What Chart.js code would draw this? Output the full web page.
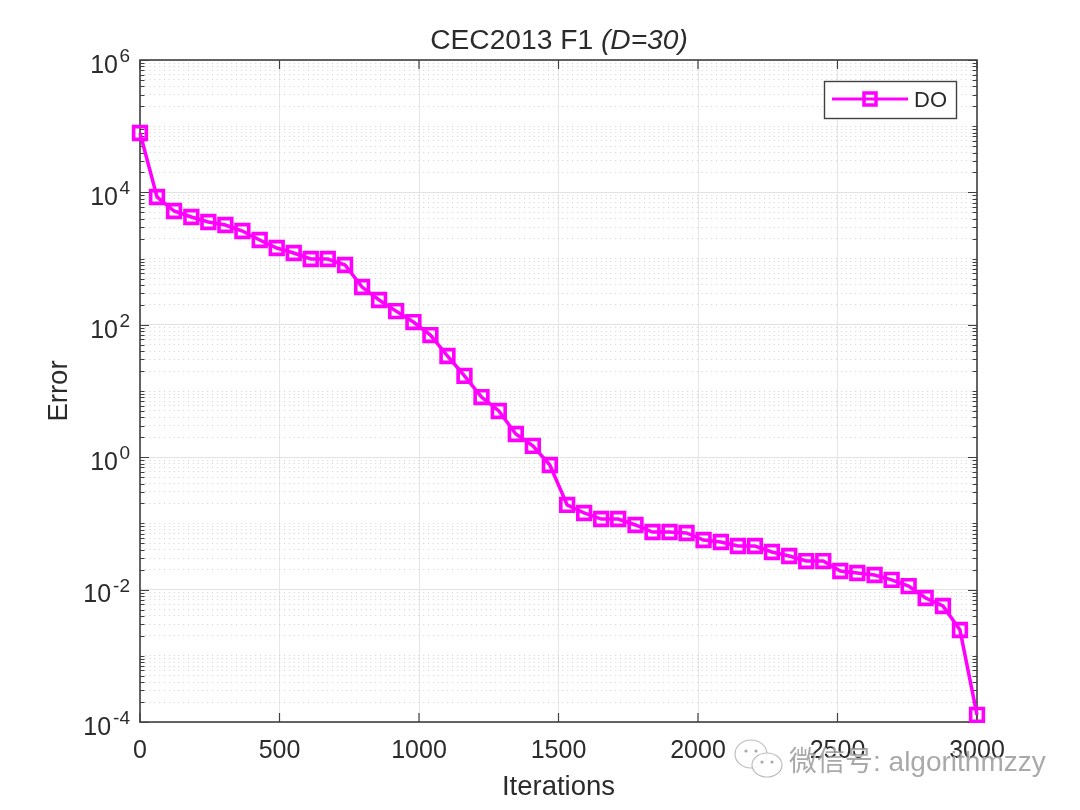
<!DOCTYPE html>
<html><head><meta charset="utf-8">
<style>html,body{margin:0;padding:0;background:#fff}#w{width:1080px;height:810px}</style>
<script src="https://cdn.jsdelivr.net/npm/chart.js@4"></script></head>
<body><div id="w"><canvas id="c" width="1080" height="810"></canvas></div>
<script>
const iterations=[0,61,122,184,245,306,367,429,490,551,612,673,735,796,857,918,980,1041,1102,1163,1224,1286,1347,1408,1469,1531,1592,1653,1714,1776,1837,1898,1959,2020,2082,2143,2204,2265,2327,2388,2449,2510,2571,2633,2694,2755,2816,2878,2939,3000];
const errors=[78900,8530,5240,4250,3570,3220,2610,1910,1445,1216,986,986,800,372,237,161,110,70,33.8,16.9,8.1,4.99,2.24,1.48,0.762,0.19,0.1436,0.1164,0.1164,0.0946,0.0741,0.0741,0.0716,0.0561,0.0524,0.0456,0.0456,0.037,0.0322,0.027,0.027,0.0191,0.0178,0.0166,0.014,0.0113,0.00746,0.00565,0.00245,0.000128];
const seriesName='DO';
const xTicks=[0,500,1000,1500,2000,2500,3000];
const yDecades=[-4,-3,-2,-1,0,1,2,3,4,5,6];
const yExponents={'-4':'-4','-2':'-2','0':'0','2':'2','4':'4','6':'6'};
const F='"Liberation Sans",Arial,sans-serif';
const ink='#2b2b2b';
const isDecade=v=>Math.abs(Math.log10(v)-Math.round(Math.log10(v)))<1e-9;
const expOf=v=>String(Math.round(Math.log10(v)));
const isLabelled=v=>isDecade(v)&&yExponents[expOf(v)]!==undefined;

const decor={id:'decor',
 beforeDatasetsDraw(ch){
  const g=ch.ctx,a=ch.chartArea,X=ch.scales.x,Y=ch.scales.y;
  g.save();g.strokeStyle='#404040';g.lineWidth=1.2;
  g.beginPath();
  X.ticks.forEach(t=>{const p=X.getPixelForValue(t.value);g.moveTo(p,a.bottom);g.lineTo(p,a.bottom-9);g.moveTo(p,a.top);g.lineTo(p,a.top+9);});
  Y.ticks.forEach(t=>{const p=Math.round(Y.getPixelForValue(t.value))+.5,l=isLabelled(t.value)?9:4.5;g.moveTo(a.left,p);g.lineTo(a.left+l,p);g.moveTo(a.right,p);g.lineTo(a.right-l,p);});
  g.stroke();
  g.lineWidth=1.6;g.strokeRect(a.left,a.top,a.right-a.left,a.bottom-a.top);
  g.restore();
 },
 afterDraw(ch){
  const g=ch.ctx,ds=ch.data.datasets[0],Y=ch.scales.y;
  g.save();
  // exponents of the y tick labels
  g.fillStyle=ink;g.textBaseline='alphabetic';g.textAlign='right';g.font='19px '+F;
  Y.ticks.forEach(t=>{if(isLabelled(t.value))g.fillText(yExponents[expOf(t.value)],130,Y.getPixelForValue(t.value)+2);});
  // title with italic part
  const p1='CEC2013 F1 ',p2='(D=30)';
  g.textAlign='left';
  g.font='28.2px '+F;const w1=g.measureText(p1).width;
  g.font='italic 28.2px '+F;const w2=g.measureText(p2).width;
  const sx=559-(w1+w2)/2;
  g.font='28.2px '+F;g.fillText(p1,sx,49);
  g.font='italic 28.2px '+F;g.fillText(p2,sx+w1,49);
  // legend
  g.fillStyle='#fff';g.strokeStyle='#404040';g.lineWidth=1.4;
  g.fillRect(824.5,81.5,132,37);g.strokeRect(824.5,81.5,132,37);
  g.strokeStyle=ds.borderColor;g.lineWidth=3.2;
  g.beginPath();g.moveTo(832,99);g.lineTo(908,99);g.stroke();
  g.lineWidth=3.5;g.strokeRect(864,93,12,12);
  g.fillStyle=ink;g.font='22px '+F;g.fillText(ds.label,914,107);
  // watermark
  g.globalAlpha=.8;
  g.font='28px '+F.replace('sans-serif','"Noto Sans CJK SC",sans-serif');
  g.fillStyle='#fff';g.fillText('微信号: algorithmzzy',790,772);
  g.fillStyle='#949494';g.fillText('微信号: algorithmzzy',789,771);
  g.globalAlpha=1;
  [[751,754,16,14],[767,765,15,12]].forEach(b=>{
   g.beginPath();g.ellipse(b[0],b[1],b[2],b[3],0,0,7);g.fillStyle='rgba(255,255,255,.85)';g.fill();
   g.strokeStyle='#bdbdbd';g.lineWidth=1.2;g.stroke();
   g.fillStyle='#aaa';
   [-5,5].forEach(d=>{g.beginPath();g.arc(b[0]+d,b[1]-3,1.6,0,7);g.fill();});
  });
  g.restore();
 }};

new Chart(document.getElementById('c'),{
 type:'line',
 plugins:[decor],
 data:{labels:iterations,datasets:[{label:seriesName,data:iterations.map((x,i)=>({x,y:errors[i]})),
  borderColor:'#ff00ff',borderWidth:3.5,backgroundColor:'transparent',tension:0,clip:false,
  pointStyle:'rect',pointRadius:9,pointBorderWidth:3.6,pointBorderColor:'#ff00ff',pointBackgroundColor:'transparent'}]},
 options:{responsive:false,animation:false,devicePixelRatio:1,
  layout:{padding:{top:60,right:103,left:0,bottom:0}},
  plugins:{legend:{display:false},tooltip:{enabled:false},title:{display:false}},
  scales:{
   x:{type:'linear',min:0,max:3000,
    afterBuildTicks(s){s.ticks=xTicks.map(value=>({value}));},
    afterFit(s){s.height=88;},
    grid:{color:'#e6e6e6',lineWidth:1,drawTicks:false},
    border:{display:false},
    ticks:{color:ink,font:{family:F,size:25},padding:14,maxRotation:0,autoSkip:false,callback:v=>String(v)},
    title:{display:true,text:'Iterations',color:ink,font:{family:F,size:27.5},padding:{top:0,bottom:6}}},
   y:{type:'logarithmic',min:1e-4,max:1e6,
    afterBuildTicks(s){const t=[];yDecades.forEach(d=>{t.push({value:Math.pow(10,d)});if(d<6)for(const m of [2,3,4,5,6,7,8,9])t.push({value:m*Math.pow(10,d)});});s.ticks=t;},
    afterFit(s){s.width=140;},
    grid:{color:c=>isLabelled(c.tick.value)?'#e2e2e2':'#d2d2d2',lineWidth:1,drawTicks:false},
    border:{display:false,dash:c=>isLabelled(c.tick.value)?[]:[1,3.8]},
    ticks:{color:ink,font:{family:F,size:25},padding:22,labelOffset:6,autoSkip:false,
     callback:v=>{if(!isLabelled(v))return '';return expOf(v).startsWith('-')?'10\u00A0':'10';}},
    title:{display:true,text:'Error',color:ink,font:{family:F,size:27.5},padding:{top:43,bottom:0}}}
  }}
});
</script></body></html>
